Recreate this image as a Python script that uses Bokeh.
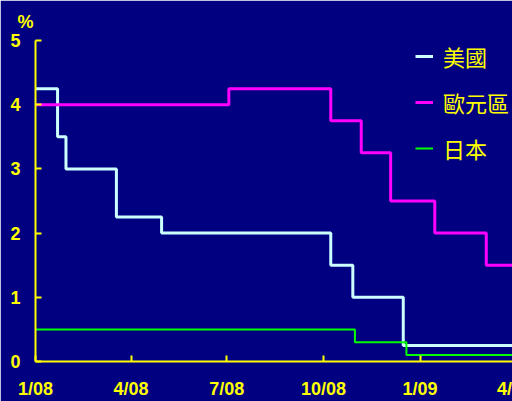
import pandas as pd
from bokeh.plotting import figure
from bokeh.models import FixedTicker
from bokeh.embed import file_html
from bokeh.resources import INLINE

# Policy rates (%), each value in force from its date onwards
us_dates = ["2008-01-01", "2008-01-22", "2008-01-30", "2008-03-18",
            "2008-04-30", "2008-10-08", "2008-10-29", "2008-12-16"]
us_rates = [4.25, 3.5, 3.0, 2.25, 2.0, 1.5, 1.0, 0.25]

ez_dates = ["2008-01-01", "2008-07-03", "2008-10-08", "2008-11-06",
            "2008-12-04", "2009-01-15", "2009-03-05"]
ez_rates = [4.0, 4.25, 3.75, 3.25, 2.5, 2.0, 1.5]

jp_dates = ["2008-01-01", "2008-10-31", "2008-12-19"]
jp_rates = [0.5, 0.3, 0.1]

series_names = ["美國", "歐元區", "日本"]

tick_dates = ["2008-01-01", "2008-04-01", "2008-07-01", "2008-10-01",
              "2009-01-01", "2009-04-01"]
tick_labels = ["1/08", "4/08", "7/08", "10/08", "1/09", "4/09"]

start = pd.Timestamp("2008-01-01")
end_date = "2009-04-18"


def days(ds):
    return [(pd.Timestamp(d) - start).days for d in ds]


def steps(ds, rs):
    # hold the last rate until the end of the axis
    return days(ds) + days([end_date]), list(rs) + [rs[-1]]


NAVY = "#000080"
YELLOW = "#FFFF00"

x_end = days([end_date])[0]
p = figure(width=532, height=401, output_backend="svg", toolbar_location=None,
           x_range=(0, x_end), y_range=(0, 5),
           min_border_left=35, min_border_right=0,
           min_border_top=40, min_border_bottom=39)
p.background_fill_color = NAVY
p.border_fill_color = NAVY
p.outline_line_color = NAVY
p.xgrid.visible = False
p.ygrid.visible = False

p.title.text = "%"
p.title.text_color = YELLOW
p.title.text_font = "Liberation Sans"
p.title.text_font_style = "bold"
p.title.text_font_size = "18px"
p.title.align = "left"
p.title.offset = -18
p.title.standoff = 14
p.title.vertical_align = "top"

colors = ["#CCFFFF", "#FF00FF", "#00FF00"]
widths = [3, 3, 2]
for (ds, rs), name, c, w in zip([(us_dates, us_rates), (ez_dates, ez_rates),
                                 (jp_dates, jp_rates)],
                                series_names, colors, widths):
    xs, ys = steps(ds, rs)
    p.step(xs, ys, mode="after", line_color=c, line_width=w, legend_label=name)

# axes
for ax in (p.xaxis[0], p.yaxis[0]):
    ax.axis_line_color = YELLOW
    ax.axis_line_width = 2
    ax.major_tick_line_color = YELLOW
    ax.major_tick_line_width = 2
    ax.major_tick_in = 6
    ax.major_tick_out = 0
    ax.minor_tick_line_color = None
    ax.major_label_text_color = YELLOW
    ax.major_label_text_font = "Liberation Sans"
    ax.major_label_text_font_style = "bold"
    ax.major_label_text_font_size = "18px"

tick_pos = days(tick_dates)
p.xaxis.ticker = FixedTicker(ticks=tick_pos)
p.xaxis.major_label_overrides = {t: l for t, l in zip(tick_pos, tick_labels)}
p.xaxis.major_label_standoff = 17
p.yaxis.ticker = FixedTicker(ticks=[0, 1, 2, 3, 4, 5])
p.yaxis.major_label_standoff = 15

lg = p.legend[0]
lg.location = (380, 197)
lg.background_fill_alpha = 0
lg.border_line_alpha = 0
lg.padding = 0
lg.margin = 0
lg.spacing = 14
lg.label_height = 24
lg.glyph_height = 24
lg.glyph_width = 18
lg.label_standoff = 10
lg.label_text_color = YELLOW
lg.label_text_font = "Noto Sans CJK TC"
lg.label_text_font_size = "22px"

open("out.html", "w").write(file_html(p, INLINE))
